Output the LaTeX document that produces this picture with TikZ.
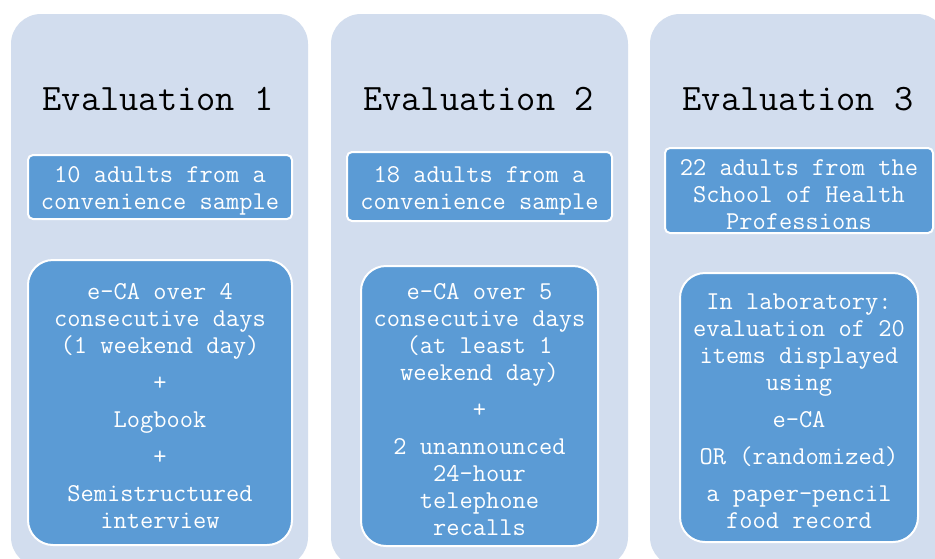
\documentclass[tikz,border=0pt]{standalone}
\usepackage{fontspec}
\definecolor{outerbg}{RGB}{210,221,238}
\definecolor{innerbg}{RGB}{91,155,213}
\begin{document}
\begin{tikzpicture}[x=1pt,y=-1pt,
  column/.style={fill=outerbg, draw=none, rounded corners=30pt, minimum width=297pt, minimum height=553pt, inner sep=0pt},
  evtitle/.style={font=\ttfamily\fontsize{37.3}{42}\selectfont, text=black, inner sep=0pt},
  smallbox/.style={fill=innerbg, draw=white, line width=2pt, rounded corners=5pt, inner sep=0pt, text=white, align=center, font=\ttfamily\fontsize{25.7}{27}\selectfont},
  bigbox/.style={smallbox, rounded corners=25pt}]
\clip (0,0) rectangle (935,558);
\fill[white] (0,0) rectangle (935,558);
% columns
\node[column] (col1) at (159.5,290.5) {};
\node[column] (col2) at (479.5,290.5) {};
\node[column] (col3) at (798.5,290.5) {};
% titles
\node[evtitle] (t1) at (158,99) {Evaluation 1};
\node[evtitle] (t2) at (478.5,99) {Evaluation 2};
\node[evtitle] (t3) at (798,99) {Evaluation 3};
% top boxes
\node[smallbox, minimum width=264pt, minimum height=64pt] (s1) at (160,187) {\rule{0pt}{24pt}10 adults from a\\convenience sample};
\node[smallbox, minimum width=265pt, minimum height=69pt] (s2) at (479.5,186.5) {\rule{0pt}{24pt}18 adults from a\\convenience sample};
\node[smallbox, minimum width=268pt, minimum height=85pt] (s3) at (799,190.5) {\rule{0pt}{24pt}22 adults from the\\School of Health\\Professions};
% bottom boxes
\node[bigbox, minimum width=264pt, minimum height=285pt] (b1) at (160,402.5)
  {\rule{0pt}{24pt}e-CA over 4\\consecutive days\\(1 weekend day)\\[10pt]+\\[10pt]Logbook\\[10pt]+\\[10pt]Semistructured\\interview};
\node[bigbox, minimum width=237pt, minimum height=280pt] (b2) at (479.5,406)
  {\rule{0pt}{24pt}e-CA over 5\\consecutive days\\(at least 1\\weekend day)\\[10pt]+\\[10pt]2 unannounced\\24-hour\\telephone\\recalls};
\node[bigbox, minimum width=238pt, minimum height=269pt] (b3) at (799,407.5)
  {\rule{0pt}{24pt}In laboratory:\\evaluation of 20\\items displayed\\using\\[10pt]e-CA\\[10pt]OR (randomized)\\[10pt]a paper-pencil\\food record};
\end{tikzpicture}
\end{document}
